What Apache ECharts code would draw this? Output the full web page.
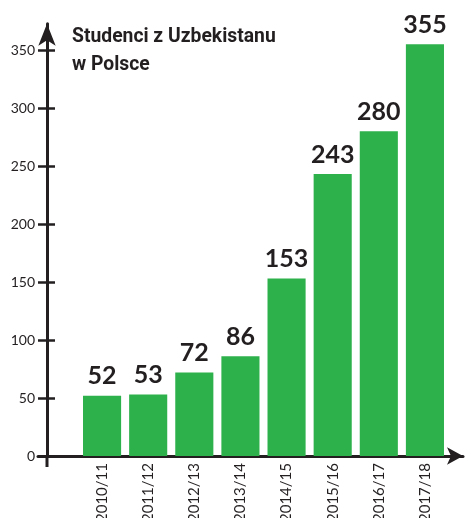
<!DOCTYPE html>
<html><head><meta charset="utf-8">
<script src="https://cdn.jsdelivr.net/npm/echarts@6/dist/echarts.min.js"></script>
<style>html,body{margin:0;padding:0;background:#fff}#c{width:472px;height:518px}</style>
</head><body><div id="c"></div>
<script>
const categories = ['2010/11','2011/12','2012/13','2013/14','2014/15','2015/16','2016/17','2017/18'];
const students = [52, 53, 72, 86, 153, 243, 280, 355];
const yTicks = [0, 50, 100, 150, 200, 250, 300, 350];
const titleText = 'Studenci z Uzbekistanu\nw Polsce';

const ink = '#231f20';
const green = '#2cb14b';
const yMax = 372.7;
const gridBottom = 62;
const pxPerUnit = 1.16;
const gridTop = 518 - gridBottom - yMax * pxPerUnit;

const chart = echarts.init(document.getElementById('c'), null, {renderer: 'canvas'});
chart.setOption({
  animation: false,
  grid: [
    {left: 79, right: 24, top: gridTop, bottom: gridBottom, containLabel: false, outerBoundsMode: 'none'},
    {left: 38, right: 9, top: gridTop, bottom: gridBottom, containLabel: false, outerBoundsMode: 'none'}
  ],
  xAxis: [
    {type: 'category', gridIndex: 0, data: categories,
     axisLine: {show: false}, axisTick: {show: false},
     axisLabel: {rotate: 90, margin: 7, fontFamily: 'Lato', fontSize: 15, color: ink}},
    {type: 'value', gridIndex: 1, min: 0, max: 1, splitLine: {show: false},
     axisLabel: {show: false}, axisTick: {show: false},
     axisLine: {show: true, onZero: false, symbol: ['none', 'arrow'], symbolSize: [13, 16], lineStyle: {color: ink, width: 3}}}
  ],
  yAxis: [
    {type: 'value', gridIndex: 0, min: 0, max: yMax, interval: 50, offset: 32,
     splitLine: {show: false}, axisTick: {show: false},
     axisLine: {show: true, symbol: ['none', 'arrow'], symbolSize: [13, 22], lineStyle: {color: ink, width: 3}},
     axisLabel: {customValues: yTicks, margin: 12, fontFamily: 'Lato', fontSize: 14, color: ink}},
    {type: 'value', gridIndex: 1, min: 0, max: yMax, interval: 50, offset: -17, position: 'left',
     splitLine: {show: false}, axisLine: {show: false}, axisLabel: {show: false},
     axisTick: {show: true, customValues: yTicks, length: 17, lineStyle: {color: ink, width: 2.5}}}
  ],
  graphic: [
    {type: 'line', shape: {x1: 47, y1: 455, x2: 47, y2: 467}, style: {stroke: ink, lineWidth: 3}, z: 10},
    {type: 'text', x: 72, y: 23, scaleX: 0.92, z: 10,
     style: {text: titleText, font: 'bold 21px Roboto', lineHeight: 28, fill: ink, textVerticalAlign: 'top'}}
  ],
  series: [{
    type: 'bar', xAxisIndex: 0, yAxisIndex: 0, data: students,
    barCategoryGap: '17.4%',
    itemStyle: {color: green},
    label: {show: true, position: 'top', distance: 7, fontFamily: 'Lato', fontWeight: 'bold', fontSize: 25, color: ink}
  }]
});
</script></body></html>
